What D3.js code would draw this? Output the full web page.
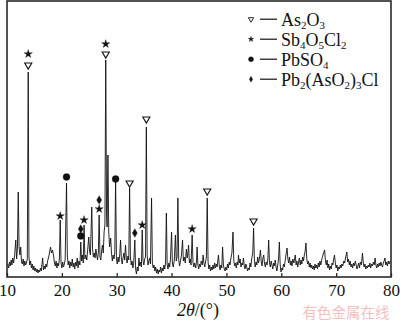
<!DOCTYPE html>
<html><head><meta charset="utf-8">
<script src="https://cdn.jsdelivr.net/npm/d3@7"></script>
<style>
html,body{margin:0;padding:0;background:#fff;}
svg{display:block;}
</style></head>
<body>
<svg id="chart" width="400" height="322"></svg>
<script>
// ---- data ----
const xTicks = [10, 20, 30, 40, 50, 60, 70, 80];
const xLabel = "2θ/(°)";
const watermark = "有色金属在线";
// XRD pattern: [2θ (°), intensity (a.u.)]
const pattern = [
[10.15,13],[10.3,9],[10.45,15],[10.6,11],[10.75,17],[10.9,12],[11.05,19],[11.2,14],[11.4,22],[11.6,37],[11.75,18],[11.9,28],[12.05,85],[12.2,30],[12.35,22],[12.5,30],[12.65,15],[12.8,13],[12.95,18],[13.1,11],[13.25,16],[13.4,12],[13.55,14],[13.7,18],[13.87,205],[14.0,20],[14.15,12],[14.3,16],[14.45,9],[14.6,13],[14.75,7],[14.9,11],[15.05,6],[15.2,9],[15.35,5],[15.5,8],[15.65,4],[15.8,7],[15.95,5],[16.1,9],[16.25,6],[16.5,19],[16.65,7],[16.8,11],[16.95,8],[17.1,13],[17.25,10],[17.4,16],[17.6,20],[17.8,26],[17.95,30],[18.1,24],[18.3,27],[18.5,21],[18.65,14],[18.8,11],[18.95,16],[19.1,9],[19.25,14],[19.4,11],[19.55,18],[19.7,57],[19.85,14],[20.0,9],[20.15,15],[20.3,10],[20.45,13],[20.6,17],[20.85,94],[21.0,22],[21.15,12],[21.3,16],[21.45,9],[21.6,15],[21.75,11],[21.9,18],[22.05,10],[22.2,14],[22.35,8],[22.5,15],[22.65,11],[22.8,19],[22.95,9],[23.1,16],[23.3,12],[23.45,35],[23.6,16],[23.75,22],[23.9,14],[24.05,52],[24.2,18],[24.35,22],[24.55,17],[24.75,30],[24.9,40],[25.05,26],[25.2,22],[25.45,70],[25.6,28],[25.75,20],[25.9,24],[26.05,19],[26.2,28],[26.35,22],[26.5,17],[26.65,24],[26.8,62],[26.95,20],[27.1,17],[27.25,26],[27.4,32],[27.55,24],[27.7,45],[27.85,52],[28.0,217],[28.15,62],[28.25,50],[28.4,122],[28.55,45],[28.7,30],[28.9,39],[29.05,24],[29.2,16],[29.35,22],[29.5,18],[29.65,24],[29.8,97],[29.95,18],[30.1,13],[30.25,20],[30.4,15],[30.55,22],[30.7,37],[30.85,18],[31.0,13],[31.15,19],[31.3,24],[31.45,17],[31.6,32],[31.75,19],[31.9,14],[32.05,21],[32.2,17],[32.35,89],[32.5,20],[32.65,12],[32.8,16],[32.95,9],[33.1,14],[33.3,37],[33.45,8],[33.6,3],[33.75,10],[33.9,6],[34.05,19],[34.2,11],[34.35,15],[34.5,10],[34.65,47],[34.8,16],[34.95,12],[35.1,18],[35.25,20],[35.4,150],[35.55,22],[35.7,12],[35.85,16],[36.0,19],[36.15,13],[36.35,79],[36.5,14],[36.65,9],[36.8,12],[36.95,6],[37.1,10],[37.25,4],[37.4,8],[37.55,3],[37.7,7],[37.85,5],[38.0,10],[38.15,4],[38.3,9],[38.45,6],[38.6,12],[38.75,8],[38.9,14],[39.05,64],[39.2,12],[39.35,8],[39.5,14],[39.65,10],[39.8,18],[40.0,45],[40.15,14],[40.3,10],[40.5,17],[40.7,42],[40.85,16],[41.0,20],[41.15,79],[41.3,18],[41.45,11],[41.6,15],[41.8,22],[42.0,37],[42.15,16],[42.3,20],[42.5,14],[42.7,28],[42.85,19],[43.0,25],[43.1,32],[43.25,14],[43.4,18],[43.55,12],[43.75,42],[43.9,15],[44.05,10],[44.2,14],[44.4,9],[44.55,16],[44.65,30],[44.8,12],[44.95,8],[45.1,13],[45.25,10],[45.4,16],[45.6,12],[45.75,22],[45.9,14],[46.05,10],[46.2,15],[46.35,20],[46.5,79],[46.65,15],[46.8,8],[46.95,12],[47.1,6],[47.25,10],[47.4,7],[47.55,12],[47.7,8],[47.85,14],[48.0,9],[48.15,13],[48.3,10],[48.55,22],[48.7,11],[48.85,7],[49.0,12],[49.15,9],[49.3,30],[49.45,12],[49.6,8],[49.75,6],[49.9,10],[50.05,7],[50.2,13],[50.35,9],[50.5,15],[50.65,12],[50.8,18],[51.0,24],[51.2,45],[51.35,16],[51.5,11],[51.65,14],[51.8,9],[51.95,15],[52.1,12],[52.2,22],[52.35,14],[52.5,18],[52.65,10],[52.8,14],[52.95,12],[53.1,19],[53.25,11],[53.4,8],[53.55,13],[53.7,10],[53.85,6],[54.0,9],[54.15,7],[54.3,14],[54.45,10],[54.6,18],[54.8,24],[54.95,49],[55.1,16],[55.25,10],[55.4,15],[55.55,12],[55.7,20],[55.85,14],[56.0,18],[56.2,27],[56.35,15],[56.5,11],[56.65,19],[56.8,22],[56.95,13],[57.1,10],[57.25,15],[57.4,12],[57.55,18],[57.7,37],[57.85,14],[58.0,10],[58.15,16],[58.3,12],[58.45,8],[58.6,14],[58.75,11],[58.9,17],[59.05,10],[59.2,6],[59.35,12],[59.5,18],[59.65,35],[59.8,12],[59.95,5],[60.1,9],[60.25,7],[60.4,13],[60.55,10],[60.7,16],[60.85,22],[61.05,29],[61.2,18],[61.35,14],[61.5,20],[61.65,12],[61.8,16],[61.95,11],[62.1,18],[62.3,14],[62.55,22],[62.7,12],[62.85,16],[63.0,10],[63.15,15],[63.3,19],[63.45,12],[63.6,17],[63.75,13],[63.9,20],[64.05,16],[64.2,22],[64.35,26],[64.5,34],[64.65,18],[64.8,13],[64.95,16],[65.1,10],[65.25,14],[65.4,9],[65.55,12],[65.7,8],[65.85,11],[66.0,7],[66.15,13],[66.3,9],[66.45,12],[66.6,8],[66.75,14],[66.9,10],[67.05,16],[67.2,12],[67.4,18],[67.6,22],[67.9,27],[68.05,16],[68.2,12],[68.35,17],[68.5,9],[68.65,13],[68.8,7],[68.95,11],[69.1,8],[69.25,14],[69.4,12],[69.55,18],[69.7,22],[69.85,14],[70.0,9],[70.15,12],[70.3,6],[70.45,10],[70.6,8],[70.75,12],[70.9,9],[71.05,13],[71.2,11],[71.4,16],[71.55,14],[71.75,20],[71.95,25],[72.1,15],[72.25,18],[72.4,12],[72.55,16],[72.7,10],[72.85,13],[73.0,9],[73.15,14],[73.3,11],[73.5,16],[73.65,12],[73.8,8],[73.95,11],[74.1,14],[74.25,9],[74.4,15],[74.6,12],[74.8,24],[74.95,14],[75.1,10],[75.25,13],[75.4,8],[75.55,11],[75.7,9],[75.85,12],[76.0,10],[76.15,14],[76.3,9],[76.45,13],[76.6,11],[76.8,15],[76.95,12],[77.1,19],[77.25,12],[77.4,9],[77.55,13],[77.7,10],[77.85,14],[78.0,11],[78.15,15],[78.3,12],[78.45,10],[78.6,14],[78.75,16],[78.9,19],[79.05,12],[79.2,15],[79.35,11],[79.5,16],[79.65,13],[79.85,16]
];
// phase markers: [2θ, marker level (a.u.)]
const as2o3Marks = [[13.87,212],[28.0,223],[32.35,94],[35.4,158],[46.5,86],[54.95,56]];
const sb4o5cl2Marks = [[13.87,223],[28.0,233],[19.7,61],[24.05,57],[26.8,68],[34.65,52],[43.75,48]];
const pbso4Marks = [[20.85,100],[23.45,41],[29.8,98]];
const pb2Marks = [[23.45,48],[26.8,77],[33.3,44]];
// legend: name parts [text, isSubscript]
const legendNames = [
  [["As",0],["2",1],["O",0],["3",1]],
  [["Sb",0],["4",1],["O",0],["5",1],["Cl",0],["2",1]],
  [["PbSO",0],["4",1]],
  [["Pb",0],["2",1],["(AsO",0],["2",1],[")",0],["3",1],["Cl",0]]
];

// ---- drawing ----
const svg = d3.select("#chart");
const x = d3.scaleLinear().domain([10, 80]).range([7, 391]);
const y = d3.scaleLinear().domain([0, 276]).range([277, 1]);
const serif = "'Liberation Serif','Times New Roman',serif";

// spectrum
svg.append("path")
  .datum(pattern)
  .attr("fill", "none")
  .attr("stroke", "#111")
  .attr("stroke-width", 0.9)
  .attr("stroke-linejoin", "miter")
  .attr("d", d3.line().x(d => x(d[0])).y(d => y(d[1])));

// frame
svg.append("rect")
  .attr("x", x(10)).attr("y", y(276))
  .attr("width", x(80) - x(10)).attr("height", y(0) - y(276))
  .attr("fill", "none").attr("stroke", "#2a2a2a").attr("stroke-width", 1.6);

// x axis (inward ticks)
const xAxis = d3.axisBottom(x).tickValues(xTicks).tickSize(-4).tickPadding(7).tickFormat(d3.format("d"));
const gx = svg.append("g").attr("transform", `translate(0,${y(0)})`).call(xAxis);
gx.select(".domain").remove();
gx.selectAll(".tick line").attr("stroke", "#2a2a2a").attr("stroke-width", 1.3);
gx.selectAll(".tick text").attr("font-family", serif).attr("font-size", 17).attr("fill", "#111");

// x label
const xl = svg.append("text").attr("x", 198).attr("y", 316)
  .attr("text-anchor", "middle").attr("font-family", serif).attr("font-size", 18).attr("fill", "#111");
xl.append("tspan").attr("font-style", "italic").text("2θ");
xl.append("tspan").text("/(°)");

// markers
function drawMarks(data, kind) {
  const g = svg.append("g");
  g.selectAll("path").data(data).join("path")
    .attr("transform", d => kind === "tri"
      ? `translate(${x(d[0])},${y(d[1])}) rotate(180)`
      : `translate(${x(d[0])},${y(d[1])})`)
    .attr("d", d => {
      if (kind === "tri") return d3.symbol().type(d3.symbolTriangle).size(22)();
      if (kind === "star") return d3.symbol().type(d3.symbolStar).size(22)();
      if (kind === "circle") return d3.symbol().type(d3.symbolCircle).size(38)();
      return d3.symbol().type(d3.symbolDiamond).size(22)();
    })
    .attr("fill", kind === "tri" ? "#fff" : "#111")
    .attr("stroke", "#111")
    .attr("stroke-width", kind === "tri" ? 1.1 : 0.3);
}
drawMarks(as2o3Marks, "tri");
drawMarks(sb4o5cl2Marks, "star");
drawMarks(pbso4Marks, "circle");
drawMarks(pb2Marks, "diamond");

// legend
const legendKinds = ["tri", "star", "circle", "diamond"];
const lg = svg.append("g");
legendNames.forEach((parts, i) => {
  const base = 25.7 + i * 20;
  const cy = base - 6.5;
  const k = legendKinds[i];
  let sym;
  if (k === "tri") sym = d3.symbol().type(d3.symbolTriangle).size(12)();
  else if (k === "star") sym = d3.symbol().type(d3.symbolStar).size(10)();
  else if (k === "circle") sym = d3.symbol().type(d3.symbolCircle).size(20)();
  else sym = d3.symbol().type(d3.symbolDiamond).size(10)();
  lg.append("path").attr("d", sym)
    .attr("transform", `translate(251,${cy})` + (k === "tri" ? " rotate(180)" : ""))
    .attr("fill", k === "tri" ? "#fff" : "#111").attr("stroke", "#111").attr("stroke-width", k === "tri" ? 0.9 : 0.3);
  lg.append("line").attr("x1", 260).attr("x2", 277).attr("y1", cy).attr("y2", cy)
    .attr("stroke", "#111").attr("stroke-width", 1.2);
  const t = lg.append("text").attr("x", 281).attr("y", base)
    .attr("font-family", serif).attr("font-size", 18).attr("fill", "#111");
  let sub = false;
  parts.forEach(([s, isSub]) => {
    const ts = t.append("tspan").text(s);
    if (isSub && !sub) { ts.attr("dy", 3).attr("font-size", 11); sub = true; }
    else if (isSub && sub) { ts.attr("font-size", 11); }
    else if (!isSub && sub) { ts.attr("dy", -3); sub = false; }
  });
});

// watermark
svg.append("text").attr("x", 346).attr("y", 317.5).attr("text-anchor", "middle")
  .attr("font-family", "'Noto Sans CJK SC',sans-serif").attr("font-size", 14.5)
  .attr("fill", "#f2b6b6").attr("opacity", 0.85).text(watermark);
</script>
</body></html>
